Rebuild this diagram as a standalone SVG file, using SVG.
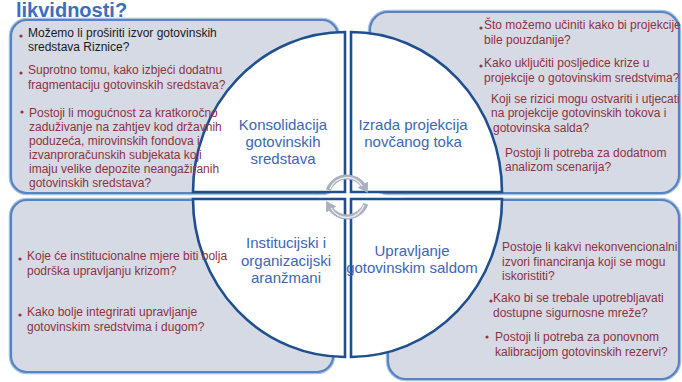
<svg xmlns="http://www.w3.org/2000/svg" width="682" height="382" viewBox="0 0 682 382">
<defs>
<style>
.box{fill:#d5dae5;stroke:#5684c2;stroke-width:2.2}
.glow{fill:none;stroke:#a9c0df;stroke-width:4.5}
.quad{fill:#ffffff;stroke:#1f4f8e;stroke-width:2.6}
.t{font-family:"Liberation Sans",Arial,sans-serif;font-size:12px;fill:#8f3140}
.k{fill:#1a1a1a}
.lbl{font-family:"Liberation Sans",Arial,sans-serif;font-size:15px;fill:#3c66b4;text-anchor:middle}
.ttl{font-family:"Liberation Sans",Arial,sans-serif;font-size:20px;font-weight:bold;fill:#3a6fc0}
.bul{fill:#9a3040}
.arc{fill:none;stroke:#a9b0be;stroke-width:5}
.arc2{fill:none;stroke:#e6e9ef;stroke-width:1.5}
</style>
<marker id="ah" markerUnits="userSpaceOnUse" markerWidth="14" markerHeight="14" refX="3" refY="7" orient="auto">
<path d="M0,1 L10,7 L0,13 Z" fill="#a9b0be"/>
</marker>
</defs>
<text class="ttl" x="16" y="17">likvidnosti?</text>
<g id="box-tl"><rect class="glow" x="11" y="20" width="327" height="173" rx="16"/><rect class="box" x="11" y="20" width="327" height="173" rx="16"/></g>
<g id="box-tr"><rect class="glow" x="370" y="12" width="309" height="181" rx="18"/><rect class="box" x="370" y="12" width="309" height="181" rx="18"/></g>
<g id="box-bl"><rect class="glow" x="11" y="200" width="322" height="172" rx="16"/><rect class="box" x="11" y="200" width="322" height="172" rx="16"/></g>
<g id="box-br"><rect class="glow" x="388" y="200" width="291" height="179" rx="18"/><rect class="box" x="388" y="200" width="291" height="179" rx="18"/></g>
<g id="q-tl"><path class="quad" d="M345,192 L193,192 A152,160 0 0 1 345,32 Z"/>
<text class="lbl" x="283" y="130">Konsolidacija</text><text class="lbl" x="283" y="147">gotovinskih</text><text class="lbl" x="283" y="164">sredstava</text></g>
<g id="q-tr"><path class="quad" d="M351,192 L351,32 A151,160 0 0 1 502,192 Z"/>
<text class="lbl" x="413" y="130">Izrada projekcija</text><text class="lbl" x="413" y="147">novčanog toka</text></g>
<g id="q-bl"><path class="quad" d="M345,199 L345,357 A152,158 0 0 1 193,199 Z"/>
<text class="lbl" x="286" y="248">Institucijski i</text><text class="lbl" x="286" y="266">organizacijski</text><text class="lbl" x="286" y="283">aranžmani</text></g>
<g id="q-br"><path class="quad" d="M351,199 L502,199 A151,158 0 0 1 351,357 Z"/>
<text class="lbl" x="412" y="256">Upravljanje</text><text class="lbl" x="412" y="273">gotovinskim saldom</text></g>
<g id="connectors">
<path class="arc" d="M328.2,190.2 A20,20 0 0 1 364.3,187" marker-end="url(#ah)"/>
<path class="arc2" d="M330,189 A18,18 0 0 1 362,186"/>
<path class="arc" d="M365.8,203.8 A20,20 0 0 1 329.7,207" marker-end="url(#ah)"/>
<path class="arc2" d="M364,205 A18,18 0 0 1 331,208"/>
</g>
<g id="text-tl">
<circle class="bul" cx="21" cy="36" r="1.6"/>
<text class="t k" x="28" y="37">Možemo li proširiti izvor gotovinskih</text>
<text class="t k" x="28" y="51">sredstava Riznice?</text>
<circle class="bul" cx="21" cy="73" r="1.6"/>
<text class="t" x="28" y="74">Suprotno tomu, kako izbjeći dodatnu</text>
<text class="t" x="28" y="89">fragmentaciju gotovinskih sredstava?</text>
<circle class="bul" cx="22" cy="112" r="1.6"/>
<text class="t" x="29" y="117">Postoji li mogućnost za kratkoročno</text>
<text class="t" x="29" y="131">zaduživanje na zahtjev kod državnih</text>
<text class="t" x="29" y="145">poduzeća, mirovinskih fondova i</text>
<text class="t" x="29" y="159">izvanproračunskih subjekata koji</text>
<text class="t" x="29" y="173">imaju velike depozite neangažiranih</text>
<text class="t" x="29" y="187">gotovinskih sredstava?</text>
</g>
<g id="text-bl">
<circle class="bul" cx="20" cy="259" r="1.6"/>
<text class="t" x="27" y="260">Koje će institucionalne mjere biti bolja</text>
<text class="t" x="27" y="275">podrška upravljanju krizom?</text>
<circle class="bul" cx="20" cy="315" r="1.6"/>
<text class="t" x="27" y="316">Kako bolje integrirati upravljanje</text>
<text class="t" x="27" y="331">gotovinskim sredstvima i dugom?</text>
</g>
<g id="text-tr">
<circle class="bul" cx="481" cy="28" r="1.6"/>
<text class="t" x="484" y="29">Što možemo učiniti kako bi projekcije</text>
<text class="t" x="484" y="44">bile pouzdanije?</text>
<circle class="bul" cx="481" cy="66" r="1.6"/>
<text class="t" x="484" y="67">Kako uključiti posljedice krize u</text>
<text class="t" x="484" y="82">projekcije o gotovinskim sredstvima?</text>
<text class="t" x="491" y="103">Koji se rizici mogu ostvariti i utjecati</text>
<text class="t" x="491" y="117">na projekcije gotovinskih tokova i</text>
<text class="t" x="493" y="132">gotovinska salda?</text>
<text class="t" x="505" y="157">Postoji li potreba za dodatnom</text>
<text class="t" x="505" y="171">analizom scenarija?</text>
</g>
<g id="text-br">
<text class="t" x="502" y="251">Postoje li kakvi nekonvencionalni</text>
<text class="t" x="502" y="266">izvori financiranja koji se mogu</text>
<text class="t" x="502" y="280">iskoristiti?</text>
<circle class="bul" cx="491" cy="301" r="1.6"/>
<text class="t" x="493" y="302">Kako bi se trebale upotrebljavati</text>
<text class="t" x="493" y="317">dostupne sigurnosne mreže?</text>
<circle class="bul" cx="487" cy="337" r="1.6"/>
<text class="t" x="495" y="341">Postoji li potreba za ponovnom</text>
<text class="t" x="495" y="356">kalibracijom gotovinskih rezervi?</text>
</g>
</svg>
